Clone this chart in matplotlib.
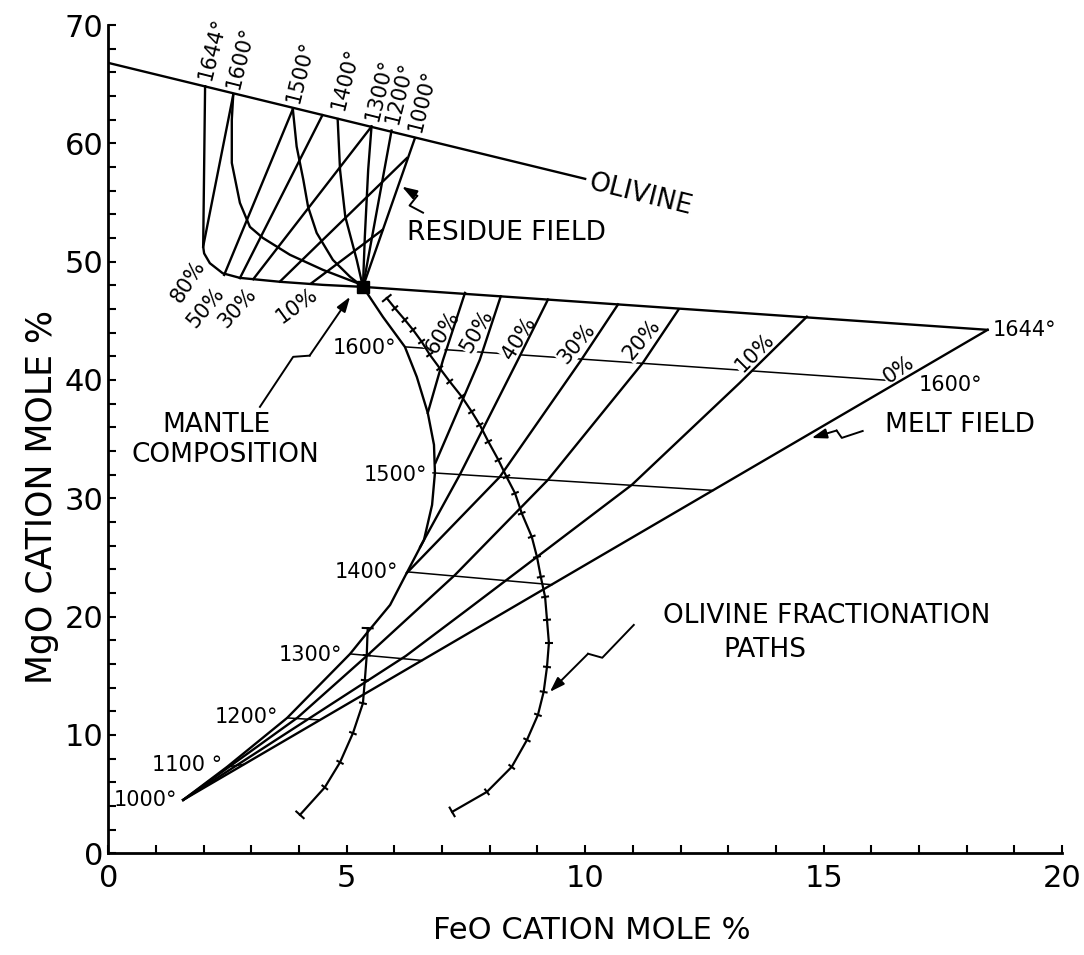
import numpy as np
import matplotlib
matplotlib.use("Agg")
import matplotlib.pyplot as plt
from matplotlib.collections import LineCollection
from matplotlib.ticker import MultipleLocator

plt.rcParams['font.family'] = 'DejaVu Sans'

# ---------------- residue field ----------------
olivine_x = [0.0, 10.0]
olivine_y = [66.8, 57.0]

mantle_x, mantle_y = 5.34, 47.87

# isotherms in the residue field, from the olivine line down to the mantle point
res_temps = ['1644°', '1600°', '1500°', '1400°', '1300°', '1200°', '1000°']
res_iso_x = [
    [2.03, 1.99, 2.01, 2.13, 2.40, 2.76, 3.60, 4.50, 5.34],
    [2.62, 2.59, 2.59, 2.76, 2.97, 3.24, 3.81, 4.50, 5.21, 5.34],
    [3.87, 3.95, 4.09, 4.19, 4.37, 4.71, 5.07, 5.34],
    [4.81, 4.86, 4.97, 5.21, 5.34],
    [5.52, 5.45, 5.38, 5.34],
    [5.94, 5.34],
    [6.43, 5.34],
]
res_iso_y = [
    [64.83, 51.26, 50.70, 49.87, 49.02, 48.63, 48.30, 48.04, 47.87],
    [64.10, 61.99, 58.35, 54.97, 52.94, 52.01, 50.58, 49.31, 48.21, 47.87],
    [62.89, 59.73, 56.92, 54.63, 52.43, 50.15, 48.72, 47.87],
    [62.05, 57.76, 53.80, 50.15, 47.87],
    [61.42, 57.76, 52.12, 47.87],
    [61.08, 47.87],
    [60.44, 47.87],
]

# melting-percent lines in the residue field (start, end)
res_pct_x0 = [1.99, 2.43, 2.76, 3.04, 3.60, 4.26]
res_pct_y0 = [51.28, 48.88, 48.61, 48.52, 48.32, 48.18]
res_pct_x1 = [2.62, 3.87, 4.49, 5.52, 6.26, 5.75]
res_pct_y1 = [64.10, 62.89, 62.38, 61.42, 58.75, 52.69]
res_pct_labels = ['80%', '50%', '30%', '10%']

# ---------------- melt field ----------------
melt_top_x = [5.34, 18.44]
melt_top_y = [47.87, 44.24]
melt_zero_x = [1.57, 18.44]
melt_zero_y = [4.51, 44.24]

boundary_x = [5.34, 5.76, 6.22, 6.47, 6.70, 6.83, 6.85, 6.79, 6.62, 6.28,
              5.91, 5.44, 5.07, 3.75, 2.49, 1.57]
boundary_y = [47.87, 45.33, 42.80, 40.26, 37.22, 34.52, 32.15, 29.44, 26.48,
              23.86, 20.99, 18.70, 16.85, 11.44, 7.30, 4.51]

melt_temps = ['1600°', '1500°', '1400°', '1300°', '1200°', '1100 °', '1000°']
melt_iso_x0 = [6.22, 6.81, 6.28, 5.07, 3.75, 2.49]
melt_iso_y0 = [42.80, 32.15, 23.78, 16.85, 11.44, 7.30]
melt_iso_x1 = [16.60, 12.68, 9.30, 6.58, 4.44, 2.85]
melt_iso_y1 = [39.90, 30.67, 22.70, 16.30, 11.27, 7.52]

melt_pct_labels = ['60%', '50%', '40%', '30%', '20%', '10%', '0%']
melt_pct_x = [
    [7.48, 7.02, 6.70],
    [8.23, 7.79, 6.86],
    [9.22, 8.59, 7.37, 6.54],
    [10.69, 9.89, 8.21, 6.26],
    [11.96, 11.21, 9.22, 7.27, 6.47, 5.42, 3.96, 1.57],
    [14.65, 13.24, 10.98, 8.99, 7.52, 6.24, 4.23, 1.57],
]
melt_pct_y = [
    [47.36, 41.70, 37.22],
    [47.07, 41.70, 32.99],
    [46.80, 41.70, 31.98, 25.89],
    [46.39, 41.53, 31.81, 23.69],
    [45.96, 41.45, 31.56, 23.52, 20.56, 16.68, 11.44, 4.51],
    [45.35, 39.75, 31.14, 25.05, 20.56, 16.68, 11.44, 4.51],
]

# olivine fractionation paths (tick positions)
path_a_x = [5.84, 6.01, 6.22, 6.39, 6.57, 6.74, 6.95, 7.16, 7.41, 7.62, 7.79,
            7.97, 8.18, 8.35, 8.53, 8.67, 8.88, 8.99, 9.07, 9.16, 9.20, 9.24,
            9.20, 9.13, 9.01, 8.78, 8.46, 7.94, 7.21]
path_a_y = [46.92, 46.07, 45.08, 44.24, 43.25, 42.15, 41.00, 39.87, 38.60,
            37.33, 36.21, 34.79, 33.25, 31.83, 30.43, 28.74, 26.76, 25.05,
            23.36, 21.67, 19.73, 17.78, 15.75, 13.64, 11.70, 9.58, 7.30, 5.19,
            3.50]
path_b_x = [5.44, 5.42, 5.38, 5.34, 5.13, 4.86, 4.54, 4.02]
path_b_y = [19.03, 16.74, 14.63, 12.68, 10.15, 7.69, 5.57, 3.25]

fig = plt.figure(figsize=(10.84, 9.55), dpi=100)
ax = fig.add_axes([0.0999, 0.1065, 0.8798, 0.8673])
ax.set_xlim(0, 20)
ax.set_ylim(0, 70)

LW = 1.7
K = 'black'
Z = 3

# residue field
ax.plot(olivine_x, olivine_y, color=K, lw=LW, zorder=Z)
for xs, ys in zip(res_iso_x, res_iso_y):
    ax.plot(xs, ys, color=K, lw=LW, zorder=Z)
for x0, y0, x1, y1 in zip(res_pct_x0, res_pct_y0, res_pct_x1, res_pct_y1):
    ax.plot([x0, x1], [y0, y1], color=K, lw=LW, zorder=Z)

# melt field
ax.plot(melt_top_x, melt_top_y, color=K, lw=LW, zorder=Z)
ax.plot(melt_zero_x, melt_zero_y, color=K, lw=LW, zorder=Z)
ax.plot(boundary_x, boundary_y, color=K, lw=LW, zorder=Z)
for xs, ys in zip(melt_pct_x, melt_pct_y):
    ax.plot(xs, ys, color=K, lw=LW, zorder=Z)
for x0, y0, x1, y1 in zip(melt_iso_x0, melt_iso_y0, melt_iso_x1, melt_iso_y1):
    ax.plot([x0, x1], [y0, y1], color=K, lw=1.1, zorder=1)

ax.plot(path_a_x, path_a_y, color=K, lw=1.6, zorder=Z)
ax.plot(path_b_x, path_b_y, color=K, lw=1.6, zorder=Z)
ax.plot(mantle_x, mantle_y, marker='s', ms=8, color=K, zorder=5)


def path_ticks(xs, ys, half=4.0):
    pts = ax.transData.transform(np.column_stack([xs, ys]))
    inv = ax.transData.inverted()
    segs = []
    n = len(pts)
    for i in range(n):
        t = pts[min(i + 1, n - 1)] - pts[max(i - 1, 0)]
        t = t / np.hypot(*t)
        nrm = np.array([-t[1], t[0]])
        h = half * 1.5 if i in (0, n - 1) else half
        segs.append(inv.transform([pts[i] - nrm * h, pts[i] + nrm * h]))
    ax.add_collection(LineCollection(segs, colors=K, linewidths=1.5, zorder=Z))


path_ticks(path_a_x, path_a_y)
path_ticks(path_b_x, path_b_y)


def squiggle(x0, y0, x1, y1, jog=6):
    p0 = ax.transData.transform((x0, y0))
    p1 = ax.transData.transform((x1, y1))
    d = p1 - p0
    u = d / np.hypot(*d)
    nrm = np.array([-u[1], u[0]])
    inv = ax.transData.inverted()
    a = inv.transform(p0 + 0.42 * d + nrm * jog)
    b = inv.transform(p0 + 0.50 * d - nrm * jog)
    ax.plot([x0, a[0], b[0]], [y0, a[1], b[1]], color=K, lw=1.4, zorder=Z)
    ax.annotate('', xy=(x1, y1), xytext=(b[0], b[1]), zorder=Z,
                arrowprops=dict(arrowstyle='-|>,head_length=0.9,head_width=0.3',
                                color=K, lw=1.4, shrinkA=0, shrinkB=0))


squiggle(6.60, 54.14, 6.16, 56.34)
squiggle(3.18, 37.73, 5.07, 47.03)
squiggle(15.82, 35.69, 14.75, 35.10, jog=4)
squiggle(11.02, 19.30, 9.26, 13.64)

# labels
FS = 15
white = dict(facecolor='white', edgecolor='none', pad=0.5)

res_lab_x = [2.03, 2.62, 3.87, 4.81, 5.52, 5.94, 6.43]
res_lab_y = [65.35, 64.65, 63.45, 62.85, 61.95, 61.65, 61.00]
for t, x, y in zip(res_temps, res_lab_x, res_lab_y):
    ax.text(x, y, t, rotation=76, rotation_mode='anchor', ha='left',
            va='center', fontsize=FS)

res_pct_lx = [1.67, 2.05, 2.70, 3.96]
res_pct_ly = [48.37, 46.17, 46.09, 46.26]
res_pct_rot = [57, 50, 48, 36]
for t, x, y, r in zip(res_pct_labels, res_pct_lx, res_pct_ly, res_pct_rot):
    ax.text(x, y, t, rotation=r, ha='center', va='center', fontsize=FS)

melt_lx = [6.05, 6.68, 6.07, 4.90, 3.56, 2.38, 1.44]
melt_ly = [42.71, 31.98, 23.78, 16.76, 11.52, 7.46, 4.51]
for t, x, y in zip(melt_temps, melt_lx, melt_ly):
    ax.text(x, y, t, ha='right', va='center', fontsize=FS)

mp_lx = [7.02, 7.73, 8.61, 9.82, 11.19, 13.56, 16.58]
mp_ly = [44.07, 44.15, 43.56, 43.05, 43.39, 42.29, 40.86]
mp_rot = [58, 60, 58, 50, 50, 45, 35]
for t, x, y, r in zip(melt_pct_labels, mp_lx, mp_ly, mp_rot):
    ax.text(x, y, t, rotation=r, ha='center', va='center', fontsize=FS,
            bbox=white, zorder=2)

ax.text(18.55, 44.24, '1644°', ha='left', va='center', fontsize=FS)
ax.text(17.0, 39.6, '1600°', ha='left', va='center', fontsize=FS)

FL = 19
ax.text(11.15, 55.65, 'OLIVINE', rotation=-14, ha='center', va='center', fontsize=FL)
ax.text(6.26, 52.44, 'RESIDUE FIELD', ha='left', va='center', fontsize=FL)
ax.text(2.26, 36.2, 'MANTLE', ha='center', va='center', fontsize=FL)
ax.text(2.45, 33.67, 'COMPOSITION', ha='center', va='center', fontsize=FL)
ax.text(17.85, 36.2, 'MELT FIELD', ha='center', va='center', fontsize=FL)
ax.text(15.07, 20.07, 'OLIVINE FRACTIONATION', ha='center', va='center', fontsize=FL)
ax.text(13.77, 17.18, 'PATHS', ha='center', va='center', fontsize=FL)

# axes styling
for s in ('top', 'right'):
    ax.spines[s].set_visible(False)
for s in ('left', 'bottom'):
    ax.spines[s].set_linewidth(2.0)
ax.xaxis.set_major_locator(MultipleLocator(5))
ax.xaxis.set_minor_locator(MultipleLocator(1))
ax.yaxis.set_major_locator(MultipleLocator(10))
ax.yaxis.set_minor_locator(MultipleLocator(2))
ax.tick_params(which='both', direction='in', length=6, width=1.5, labelsize=22)
ax.tick_params(axis='x', pad=8)

fig.text(592 / 1084, 1 - 930 / 955, 'FeO CATION MOLE %', ha='center', va='center',
         fontsize=22)
fig.text(42 / 1084, 1 - 497 / 955, 'MgO CATION MOLE %', ha='center', va='center',
         rotation=90, fontsize=25)

fig.savefig('out.png', dpi=100)
